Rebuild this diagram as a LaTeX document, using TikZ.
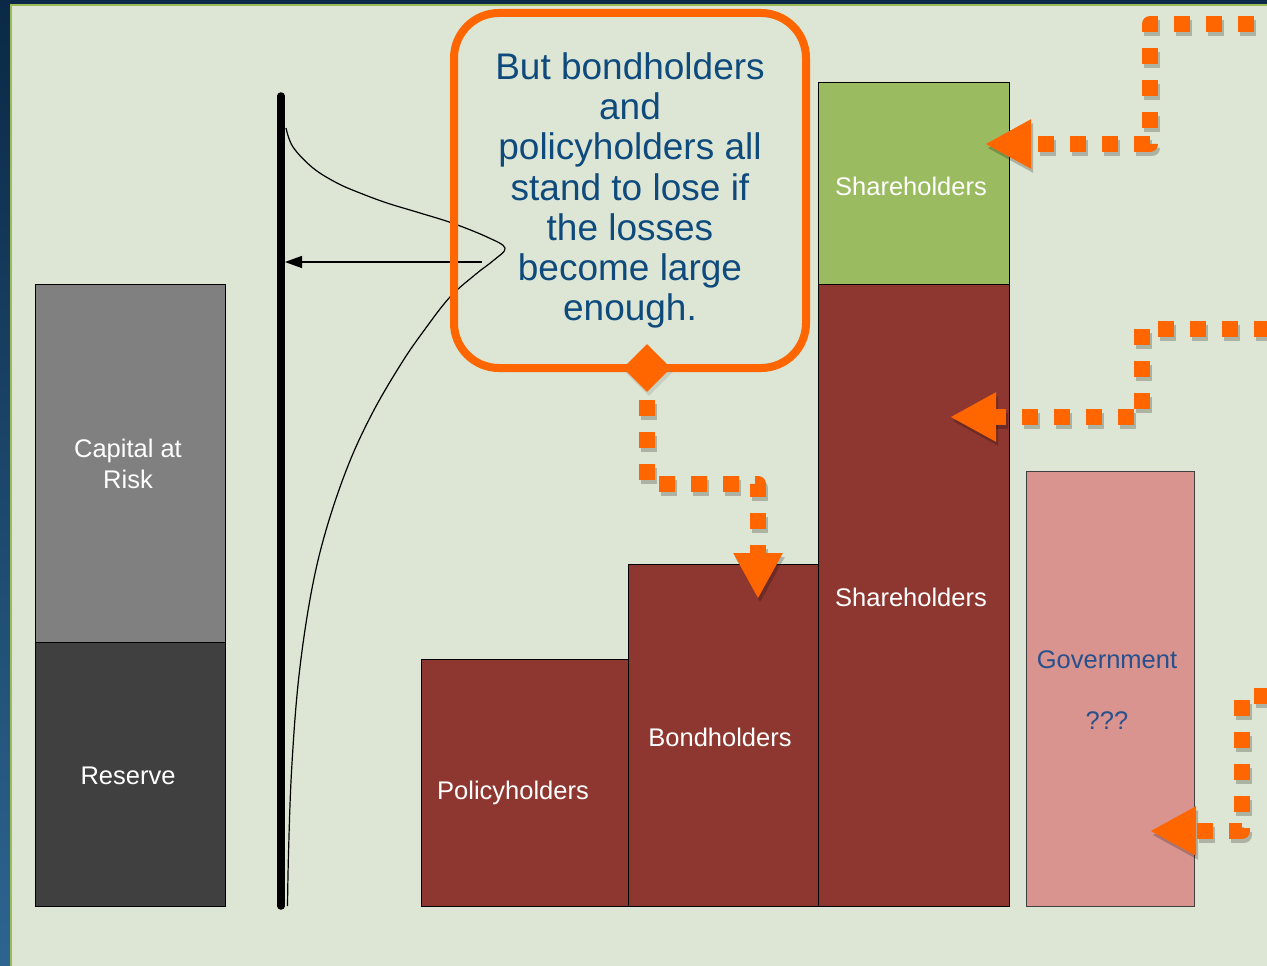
\documentclass[tikz,border=0pt]{standalone}
\usepackage{fontspec}
\setmainfont{Liberation Sans}
\usetikzlibrary{arrows.meta,shapes.geometric,shadows}
\definecolor{bg}{HTML}{DDE6D4}
\definecolor{frametop}{HTML}{0B2847}
\definecolor{framebot}{HTML}{2D6590}
\definecolor{framegreen}{HTML}{9BBB59}
\definecolor{corange}{HTML}{FF6600}
\definecolor{cred}{HTML}{8E3730}
\definecolor{cgreen}{HTML}{9BBB60}
\definecolor{cgray}{HTML}{808080}
\definecolor{cdark}{HTML}{404040}
\definecolor{cpink}{HTML}{D99490}
\definecolor{cblue}{HTML}{0F4A7C}
\definecolor{cgov}{HTML}{27508C}
\newcommand\barfont{\fontsize{25.5}{30.5}\selectfont}
\newcommand\oconn[1]{\draw[connsh] #1;\draw[conn] #1;}
\begin{document}
\begin{tikzpicture}[x=1pt,y=-1pt,
  bar/.style={draw=black, line width=1pt, inner sep=0pt, anchor=north west},
  lab/.style={text=white, font=\barfont, align=center, inner sep=0pt},
  conn/.style={draw=corange, line width=16pt, dash pattern=on 16pt off 16pt, line join=round, -{Triangle[length=46pt,width=46pt]}},
  connsh/.style={conn, draw=black, opacity=0.22, transform canvas={shift={(2pt,-4pt)}}},
  thin/.style={line width=1.2pt, draw=black}]
\useasboundingbox (0,0) rectangle (1267,966);
% background and frame
\fill[bg] (0,0) rectangle (1267,966);
\shade[top color=frametop, bottom color=framebot] (0,0) rectangle (10,966);
\fill[frametop] (0,0) rectangle (1267,4);
\fill[framegreen] (10,4) rectangle (12,966);
\fill[framegreen] (10,4) rectangle (1267,6);
\clip (12,6) rectangle (1267,966);

% bars
\node[bar, fill=cgray, minimum width=190pt, minimum height=358pt] (car) at (35,284) {};
\node[bar, fill=cdark, minimum width=190pt, minimum height=264pt] (res) at (35,642) {};
\node[bar, fill=cred, minimum width=207pt, minimum height=247pt] (pol) at (421,659) {};
\node[bar, fill=cred, minimum width=190pt, minimum height=342pt] (bond) at (628,564) {};
\node[bar, fill=cred, minimum width=191pt, minimum height=622pt] (shr) at (818,284) {};
\node[bar, fill=cgreen, minimum width=191pt, minimum height=202pt] (shg) at (818,82) {};
\node[bar, fill=cpink, draw=black!75, minimum width=168pt, minimum height=435pt] (gov) at (1026,471) {};
% bar labels
\node[lab] (carl) at (128,464) {Capital at\\Risk};
\node[lab] (resl) at (128,776) {Reserve};
\node[lab] (poll) at (513,793) {Policyholders};
\node[lab] (bondl) at (720,737) {Bondholders};
\node[lab] (shrl) at (911,597) {Shareholders};
\node[lab] (shgl) at (911,186) {Shareholders};
\node[lab, text=cgov] (govl) at (1107,690) {Government\\[30.5pt]???};

% axis and distribution curve
\coordinate (axtop) at (281,96);
\coordinate (axbot) at (281,906);
\draw[line width=7.5pt, line cap=round] (axtop) -- (axbot);
\draw[thin] plot[smooth, tension=0.6] coordinates {(286,128) (293,147) (313,168) (337,183) (360,193) (387,203) (420,213) (452,223) (487,237) (505,248) (494,260) (476,274) (450,297) (424.4,330) (401.6,363) (372.4,413) (347.5,467) (325.2,533) (310.4,597) (298.5,680) (291.6,770) (288.6,850) (287.5,906)};
\coordinate (pk) at (482,262);
\coordinate (ax) at (285,262);
\draw[thin, -{Triangle[length=17pt,width=12pt]}] (pk) -- (ax);

% callout
\node[draw=corange, line width=8pt, rounded corners=45pt, minimum width=352pt, minimum height=355pt, inner sep=0pt, align=center, text=cblue, font=\fontsize{37}{40.3}\selectfont] (call) at (630,190.5) {But bondholders\\and\\policyholders all\\stand to lose if\\the losses\\become large\\enough.};
\node[diamond, fill=corange, minimum width=48pt, minimum height=48pt, inner sep=0pt, drop shadow={shadow xshift=2pt, shadow yshift=-4pt, opacity=0.22}] (dia) at (647,368) {};

% orange connectors
\coordinate (s1) at (1286,24);
\coordinate (t1) at (985,144);
\coordinate (s2) at (1270,329);
\coordinate (t2) at (950,417);
\coordinate (s3) at (1270,696);
\coordinate (t3) at (1150,831);
\coordinate (t4) at (758,599);
\oconn{(s1) -- (1150,24) -- (1150,144) -- (t1)}
\oconn{(s2) -- (1142,329) -- (1142,417) -- (t2)}
\oconn{(s3) -- (1242,696) -- (1242,831) -- (t3)}
\draw[connsh, dash phase=24pt] (dia.south) -- (647,484) -- (758,484) -- (t4);
\draw[conn, dash phase=24pt] (dia.south) -- (647,484) -- (758,484) -- (t4);
\end{tikzpicture}
\end{document}
